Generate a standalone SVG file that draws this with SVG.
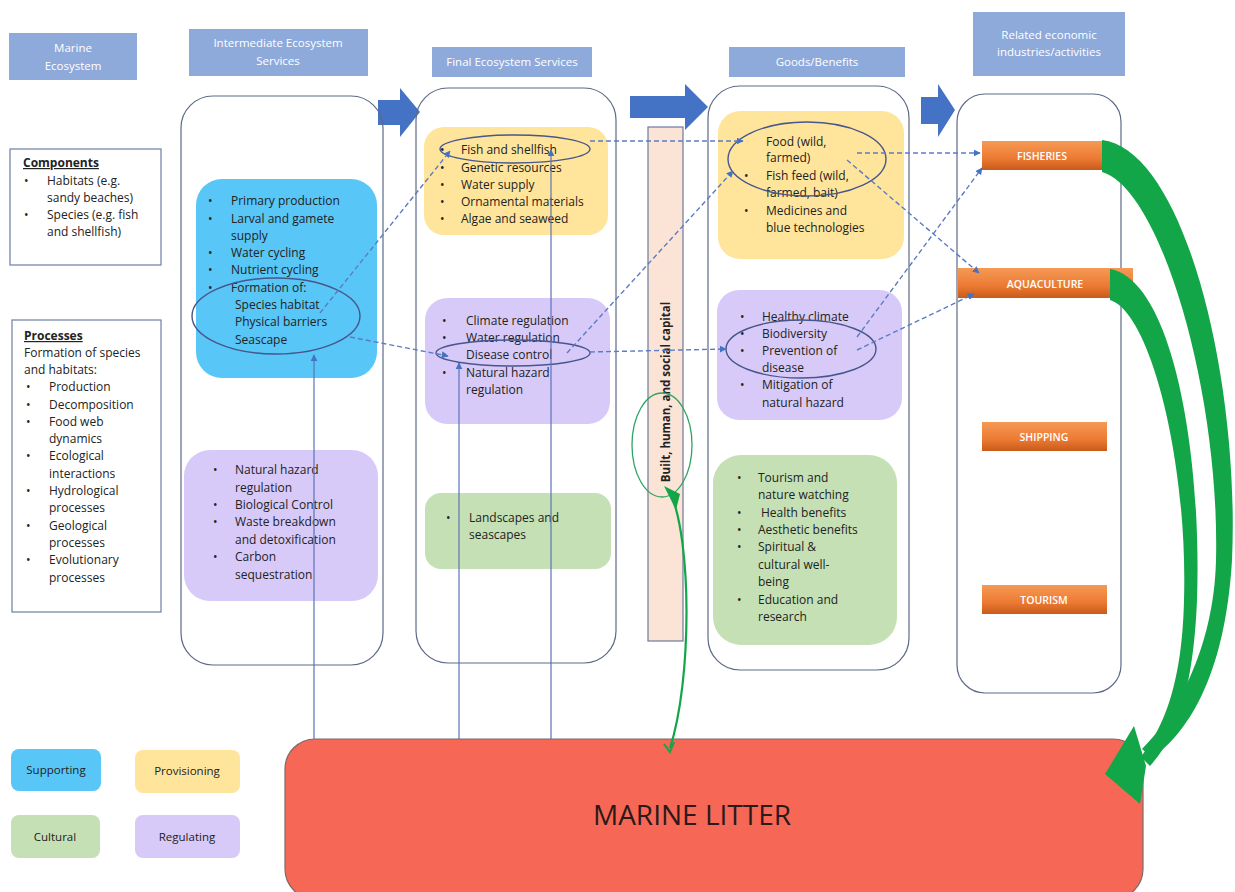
<svg xmlns="http://www.w3.org/2000/svg" width="1235" height="892" viewBox="0 0 1235 892">
<style>
.hdr{fill:#8eaadb}
.hdrt{font-family:"Open Sans",sans-serif;font-size:11.5px;fill:#ffffff;text-anchor:middle}
.col{fill:none;stroke:#5d6a86;stroke-width:1.2}
.t{font-family:"Open Sans",sans-serif;font-size:12px;fill:#222222}
.bt{font-family:"Open Sans",sans-serif;font-size:12px;fill:#222222;font-weight:bold;text-decoration:underline}
.sup{fill:#58c6f6}
.prov{fill:#ffe59b}
.reg{fill:#d8caf8}
.cul{fill:#c5e0b4}
.ell{fill:none;stroke:#47568c;stroke-width:1.4}
.ind{fill:url(#og)}
.indt{font-family:"Open Sans",sans-serif;font-size:10.5px;fill:#ffffff;font-weight:600;text-anchor:middle}
.dash{fill:none;stroke:#5b7cc4;stroke-width:1.4;stroke-dasharray:5 3;marker-end:url(#ah)}
.solid{fill:none;stroke:#5a72b8;stroke-width:1.2;marker-end:url(#ah)}
.blk{fill:#4472c4}
.green{fill:#13a649}
.lt{font-family:"Open Sans",sans-serif;font-size:11.5px;fill:#222222;text-anchor:middle}
.box{fill:#ffffff;stroke:#6d7fa6;stroke-width:1.2}
</style>
<defs>
<linearGradient id="og" x1="0" y1="0" x2="0" y2="1">
<stop offset="0" stop-color="#f59a55"/>
<stop offset="0.6" stop-color="#ec7a33"/>
<stop offset="1" stop-color="#c95a1a"/>
</linearGradient>
<marker id="ah" viewBox="0 0 10 10" refX="9" refY="5" markerWidth="7" markerHeight="7" orient="auto" markerUnits="userSpaceOnUse">
<path d="M0,0 L10,5 L0,10 Z" fill="#4472c4"/>
</marker>
</defs>
<rect width="1235" height="892" fill="#ffffff"/>

<g id="headers">
<rect class="hdr" x="9" y="33" width="128" height="47"/>
<text class="hdrt" x="73" y="52">Marine</text>
<text class="hdrt" x="73" y="70">Ecosystem</text>
<rect class="hdr" x="189" y="29" width="179" height="47"/>
<text class="hdrt" x="278" y="47">Intermediate Ecosystem</text>
<text class="hdrt" x="278" y="65">Services</text>
<rect class="hdr" x="432" y="47" width="160" height="30"/>
<text class="hdrt" x="512" y="66">Final Ecosystem Services</text>
<rect class="hdr" x="729" y="47" width="176" height="30"/>
<text class="hdrt" x="817" y="66">Goods/Benefits</text>
<rect class="hdr" x="973" y="12" width="152" height="64"/>
<text class="hdrt" x="1049" y="39">Related economic</text>
<text class="hdrt" x="1049" y="56">industries/activities</text>
</g>

<g id="block-arrows">
<path class="blk" d="M378,100 L400,100 L400,88 L420,112 L400,137 L400,125 L378,125 Z"/>
<path class="blk" d="M630,96 L685,96 L685,84 L708,107 L685,130 L685,118 L630,118 Z"/>
<path class="blk" d="M921,97 L938,97 L938,84 L955,110 L938,137 L938,124 L921,124 Z"/>
</g>

<g id="containers">
<rect class="col" x="181" y="96" width="202" height="569" rx="32"/>
<rect class="col" x="416" y="88" width="200" height="575" rx="32"/>
<rect class="col" x="708" y="86" width="201" height="584" rx="32"/>
<rect class="col" x="957" y="94" width="164" height="599" rx="28"/>
</g>

<g id="components">
<rect class="box" x="10" y="149" width="151" height="116"/>
<text class="bt" x="23" y="167">Components</text>
<text class="t" x="24" y="185">•</text><text class="t" x="47" y="185">Habitats (e.g.</text>
<text class="t" x="47" y="202">sandy beaches)</text>
<text class="t" x="24" y="219">•</text><text class="t" x="47" y="219">Species (e.g. fish</text>
<text class="t" x="47" y="236">and shellfish)</text>
</g>

<g id="processes">
<rect class="box" x="12" y="320" width="149" height="292"/>
<text class="bt" x="24" y="340">Processes</text>
<text class="t" x="24" y="357">Formation of species</text>
<text class="t" x="24" y="374">and habitats:</text>
<text class="t" x="26" y="391">•</text><text class="t" x="49" y="391">Production</text>
<text class="t" x="26" y="409">•</text><text class="t" x="49" y="409">Decomposition</text>
<text class="t" x="26" y="426">•</text><text class="t" x="49" y="426">Food web</text>
<text class="t" x="49" y="443">dynamics</text>
<text class="t" x="26" y="460">•</text><text class="t" x="49" y="460">Ecological</text>
<text class="t" x="49" y="478">interactions</text>
<text class="t" x="26" y="495">•</text><text class="t" x="49" y="495">Hydrological</text>
<text class="t" x="49" y="512">processes</text>
<text class="t" x="26" y="530">•</text><text class="t" x="49" y="530">Geological</text>
<text class="t" x="49" y="547">processes</text>
<text class="t" x="26" y="564">•</text><text class="t" x="49" y="564">Evolutionary</text>
<text class="t" x="49" y="582">processes</text>
</g>

<g id="intermediate-supporting">
<rect class="sup" x="196" y="179" width="181" height="199" rx="26"/>
<text class="t" x="208" y="205">•</text><text class="t" x="231" y="205">Primary production</text>
<text class="t" x="208" y="223">•</text><text class="t" x="231" y="223">Larval and gamete</text>
<text class="t" x="231" y="240">supply</text>
<text class="t" x="208" y="257">•</text><text class="t" x="231" y="257">Water cycling</text>
<text class="t" x="208" y="274">•</text><text class="t" x="231" y="274">Nutrient cycling</text>
<text class="t" x="208" y="292">•</text><text class="t" x="231" y="292">Formation of:</text>
<text class="t" x="235" y="309">Species habitat</text>
<text class="t" x="235" y="326">Physical barriers</text>
<text class="t" x="235" y="344">Seascape</text>
<ellipse class="ell" cx="276" cy="316" rx="84" ry="38"/>
</g>

<g id="intermediate-regulating">
<rect class="reg" x="184" y="450" width="194" height="151" rx="26"/>
<text class="t" x="213" y="474">•</text><text class="t" x="235" y="474">Natural hazard</text>
<text class="t" x="235" y="492">regulation</text>
<text class="t" x="213" y="509">•</text><text class="t" x="235" y="509">Biological Control</text>
<text class="t" x="213" y="526">•</text><text class="t" x="235" y="526">Waste breakdown</text>
<text class="t" x="235" y="544">and detoxification</text>
<text class="t" x="213" y="561">•</text><text class="t" x="235" y="561">Carbon</text>
<text class="t" x="235" y="579">sequestration</text>
</g>

<g id="final-provisioning">
<rect class="prov" x="424" y="127" width="184" height="108" rx="20"/>
<text class="t" x="440" y="154">•</text><text class="t" x="461" y="154">Fish and shellfish</text>
<text class="t" x="440" y="172">•</text><text class="t" x="461" y="172">Genetic resources</text>
<text class="t" x="440" y="189">•</text><text class="t" x="461" y="189">Water supply</text>
<text class="t" x="440" y="206">•</text><text class="t" x="461" y="206">Ornamental materials</text>
<text class="t" x="440" y="223">•</text><text class="t" x="461" y="223">Algae and seaweed</text>
<ellipse class="ell" cx="515" cy="149" rx="75" ry="14"/>
</g>

<g id="final-regulating">
<rect class="reg" x="425" y="298" width="185" height="126" rx="22"/>
<text class="t" x="442" y="325">•</text><text class="t" x="466" y="325">Climate regulation</text>
<text class="t" x="442" y="342">•</text><text class="t" x="466" y="342">Water regulation</text>
<text class="t" x="442" y="359">•</text><text class="t" x="466" y="359">Disease control</text>
<text class="t" x="442" y="377">•</text><text class="t" x="466" y="377">Natural hazard</text>
<text class="t" x="466" y="394">regulation</text>
<ellipse class="ell" cx="513" cy="353" rx="77" ry="13"/>
</g>

<g id="final-cultural">
<rect class="cul" x="425" y="493" width="186" height="76" rx="16"/>
<text class="t" x="446" y="522">•</text><text class="t" x="469" y="522">Landscapes and</text>
<text class="t" x="469" y="539">seascapes</text>
</g>

<g id="capital">
<rect x="648" y="127" width="35" height="514" fill="#fbe4d6" stroke="#6d7a99" stroke-width="1.2"/>
<text transform="translate(670,392) rotate(-90)" font-family="Open Sans, sans-serif" font-size="11.5px" font-weight="bold" fill="#222222" text-anchor="middle">Built, human, and social capital</text>
<ellipse cx="662" cy="445" rx="30" ry="52" fill="none" stroke="#2fa462" stroke-width="1.3"/>
</g>

<g id="goods-provisioning">
<rect class="prov" x="718" y="111" width="186" height="148" rx="22"/>
<text class="t" x="766" y="146">Food  (wild,</text>
<text class="t" x="766" y="162">farmed)</text>
<text class="t" x="744" y="180">•</text><text class="t" x="766" y="180">Fish feed (wild,</text>
<text class="t" x="766" y="197">farmed, bait)</text>
<text class="t" x="744" y="215">•</text><text class="t" x="766" y="215">Medicines and</text>
<text class="t" x="766" y="232">blue technologies</text>
<ellipse class="ell" cx="807" cy="159" rx="79" ry="37"/>
</g>

<g id="goods-regulating">
<rect class="reg" x="717" y="290" width="185" height="130" rx="22"/>
<text class="t" x="740" y="321">•</text><text class="t" x="762" y="321">Healthy climate</text>
<text class="t" x="740" y="338">•</text><text class="t" x="762" y="338">Biodiversity</text>
<text class="t" x="740" y="355">•</text><text class="t" x="762" y="355">Prevention of</text>
<text class="t" x="762" y="372">disease</text>
<text class="t" x="740" y="389">•</text><text class="t" x="762" y="389">Mitigation of</text>
<text class="t" x="762" y="407">natural hazard</text>
<ellipse class="ell" cx="801" cy="349" rx="75" ry="29"/>
</g>

<g id="goods-cultural">
<rect class="cul" x="713" y="455" width="184" height="190" rx="28"/>
<text class="t" x="737" y="482">•</text><text class="t" x="758" y="482">Tourism and</text>
<text class="t" x="758" y="499">nature watching</text>
<text class="t" x="737" y="517">•</text><text class="t" x="761" y="517">Health benefits</text>
<text class="t" x="737" y="534">•</text><text class="t" x="758" y="534">Aesthetic benefits</text>
<text class="t" x="737" y="551">•</text><text class="t" x="758" y="551">Spiritual &amp;</text>
<text class="t" x="758" y="569">cultural well-</text>
<text class="t" x="758" y="586">being</text>
<text class="t" x="737" y="604">•</text><text class="t" x="758" y="604">Education and</text>
<text class="t" x="758" y="621">research</text>
</g>

<g id="industries">
<rect class="ind" x="982" y="141" width="120" height="29"/>
<text class="indt" x="1042" y="160">FISHERIES</text>
<rect class="ind" x="958" y="268" width="175" height="30"/>
<text class="indt" x="1045" y="288">AQUACULTURE</text>
<rect class="ind" x="982" y="422" width="125" height="29"/>
<text class="indt" x="1044" y="441">SHIPPING</text>
<rect class="ind" x="982" y="585" width="125" height="29"/>
<text class="indt" x="1044" y="604">TOURISM</text>
</g>

<g id="marine-litter">
<rect x="285" y="739" width="858" height="160" rx="30" fill="#f76755" stroke="#7a6a6a" stroke-width="1.2"/>
<text x="692" y="825" font-family="Open Sans, sans-serif" font-size="28px" fill="#2a1a1a" text-anchor="middle">MARINE LITTER</text>
</g>

<g id="legend">
<rect class="sup" x="11" y="749" width="90" height="42" rx="8"/>
<text class="lt" x="56" y="774">Supporting</text>
<rect class="prov" x="135" y="750" width="105" height="43" rx="8"/>
<text class="lt" x="187" y="775">Provisioning</text>
<rect class="cul" x="11" y="815" width="89" height="43" rx="8"/>
<text class="lt" x="55" y="841">Cultural</text>
<rect class="reg" x="135" y="815" width="105" height="43" rx="8"/>
<text class="lt" x="187" y="841">Regulating</text>
</g>

<g id="connectors">
<line class="solid" x1="314" y1="739" x2="314" y2="355"/>
<line class="solid" x1="459" y1="739" x2="459" y2="363"/>
<line class="solid" x1="551" y1="739" x2="551" y2="150"/>
<line class="dash" x1="320" y1="313" x2="450" y2="151"/>
<line class="dash" x1="350" y1="337" x2="448" y2="356"/>
<line class="dash" x1="590" y1="141" x2="743" y2="141"/>
<line class="dash" x1="567" y1="353" x2="733" y2="171"/>
<line class="dash" x1="590" y1="352" x2="726" y2="349"/>
<line class="dash" x1="857" y1="153" x2="980" y2="153"/>
<line class="dash" x1="847" y1="160" x2="979" y2="273"/>
<line class="dash" x1="857" y1="337" x2="982" y2="168"/>
<line class="dash" x1="857" y1="350" x2="974" y2="294"/>
<path d="M670,748 C692,680 692,540 670,492" fill="none" stroke="#13a649" stroke-width="2.2"/>
<path d="M664,486 L680,494 L676,510 Z" fill="#13a649"/>
<path d="M664,744 L670,752 L674,742" fill="none" stroke="#13a649" stroke-width="2"/>
<path class="green" d="M1102,140 C1185,150 1240,380 1232,560 C1225,680 1185,735 1152,758 L1142,749 C1174,718 1214,650 1216,560 C1220,390 1160,188 1102,172 Z"/>
<path class="green" d="M1110,269 C1172,280 1202,450 1197,600 C1193,700 1172,742 1150,766 L1141,757 C1161,730 1182,690 1184,600 C1188,460 1150,312 1110,300 Z"/>
<path class="green" d="M1134,726 L1105,774 L1140,804 L1146,766 Z"/>
</g>
</svg>
